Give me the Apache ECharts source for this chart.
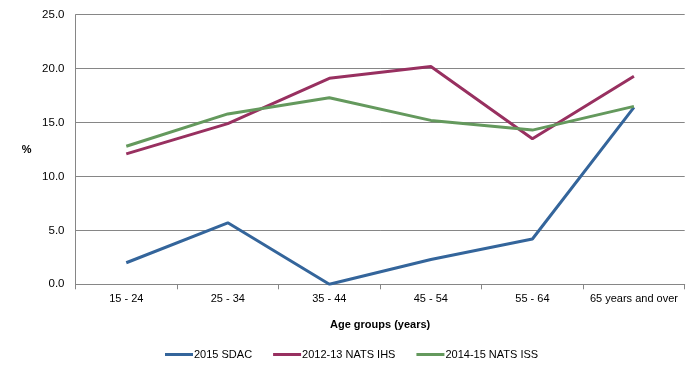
<!DOCTYPE html>
<html><head><meta charset="utf-8">
<script src="https://cdn.jsdelivr.net/npm/echarts@6/dist/echarts.min.js"></script>
<style>html,body{margin:0;padding:0;background:#fff}#c{width:699px;height:378px}</style>
</head><body><div id="c"></div>
<script>
const categories = ["15 - 24", "25 - 34", "35 - 44", "45 - 54", "55 - 64", "65 years and over"];
const sdac2015 = [2.0, 5.7, 0.0, 2.3, 4.2, 16.4];
const natsihs2012 = [12.1, 14.9, 19.1, 20.2, 13.5, 19.3];
const natsiss2014 = [12.8, 15.8, 17.3, 15.2, 14.3, 16.5];
const yTicks = [0, 5, 10, 15, 20, 25];
const seriesNames = ["2015 SDAC", "2012-13 NATS IHS", "2014-15 NATS ISS"];
const colors = ["#34659b", "#983060", "#64995d"];
const font = "Liberation Sans, Arial, sans-serif";
const chart = echarts.init(document.getElementById('c'), null, {renderer: 'canvas'});
const mk = (name, data, color) => ({
  name, type: 'line', data, symbol: 'none', smooth: false,
  lineStyle: {color, width: 3}, itemStyle: {color}, z: 3
});
chart.setOption({
  animation: false,
  color: colors,
  grid: {left: 75.5, right: 14.3, top: 14.7, bottom: 93.7, containLabel: false},
  xAxis: {
    type: 'category', data: categories, boundaryGap: true,
    axisLine: {lineStyle: {color: '#868686', width: 1}},
    axisTick: {show: true, alignWithLabel: false, length: 5, lineStyle: {color: '#868686'}},
    axisLabel: {color: '#000', fontFamily: font, fontSize: 11, margin: 9, interval: 0},
    name: 'Age groups (years)', nameLocation: 'middle', nameGap: 35,
    nameTextStyle: {color: '#000', fontFamily: font, fontSize: 11, fontWeight: 'bold'}
  },
  yAxis: {
    type: 'value', min: yTicks[0], max: yTicks[yTicks.length - 1], interval: 5,
    axisLine: {show: true, lineStyle: {color: '#868686', width: 1}},
    axisTick: {show: false},
    splitLine: {show: true, lineStyle: {color: '#868686', width: 1}},
    axisLabel: {color: '#000', fontFamily: font, fontSize: 11.5, margin: 11, formatter: v => v.toFixed(1)},
    name: '%', nameLocation: 'middle', nameGap: 44, nameRotate: 0,
    nameTextStyle: {color: '#000', fontFamily: font, fontSize: 11, fontWeight: 'bold', padding: [6, 0, 0, 0], verticalAlign: 'middle'}
  },
  legend: {
    left: 165, top: 349, padding: 0, icon: 'rect', itemWidth: 28, itemHeight: 3, itemGap: 21,
    data: seriesNames,
    textStyle: {color: '#000', fontFamily: font, fontSize: 11, padding: [0, 0, 0, -4]}
  },
  series: [
    mk(seriesNames[0], sdac2015, colors[0]),
    mk(seriesNames[1], natsihs2012, colors[1]),
    mk(seriesNames[2], natsiss2014, colors[2])
  ]
});
</script></body></html>
